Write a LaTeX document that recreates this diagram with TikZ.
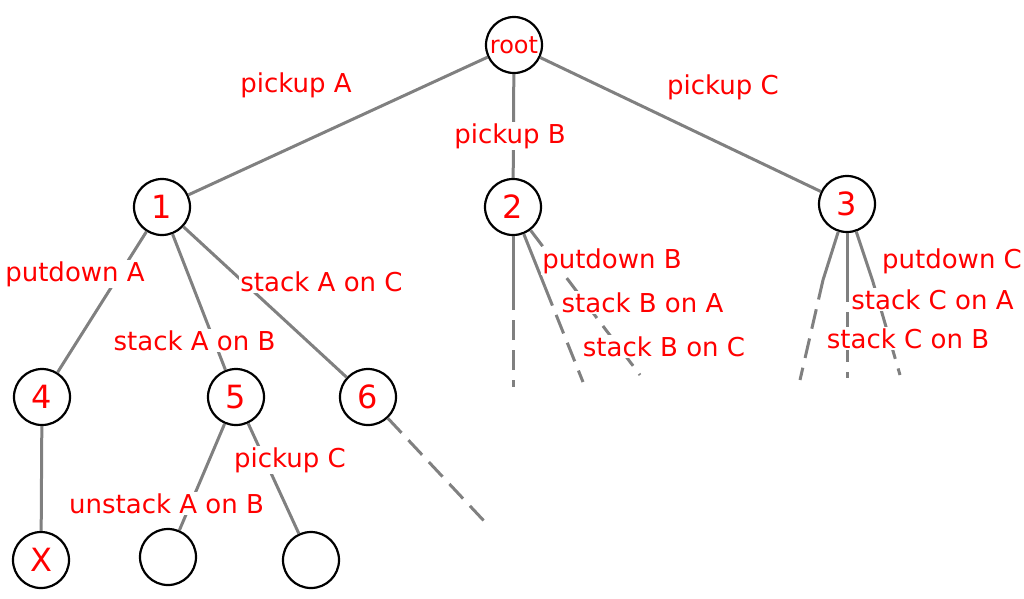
\documentclass[tikz,border=0pt]{standalone}
\usepackage{fontspec}
\setmainfont{DejaVu Sans}
\definecolor{edgegray}{RGB}{128,128,128}
\begin{document}
\begin{tikzpicture}[x=1pt,y=-1pt,
  state/.style={circle,draw=black,line width=2.2pt,minimum size=56pt,inner sep=0pt,text=red,font=\fontsize{32}{32}\selectfont},
  edge/.style={draw=edgegray,line width=3pt},
  dashedge/.style={edge,dash pattern=on 20pt off 10pt},
  lbl/.style={fill=white,text=red,inner sep=1.5pt,anchor=base,font=\fontsize{26}{26}\selectfont}]
\useasboundingbox (0,0) rectangle (1024,598);
% nodes
\node[state] (root) at (514,45) {\fontsize{24}{24}\selectfont root};
\node[state] (n1) at (162,207) {1};
\node[state] (n2) at (513,207) {2};
\node[state] (n3) at (847,204) {3};
\node[state] (n4) at (42,397) {4};
\node[state] (n5) at (236,397) {5};
\node[state] (n6) at (368,397) {6};
\node[state] (nx) at (41,560) {X};
\node[state] (b1) at (168,557) {};
\node[state] (b2) at (311,560) {};
% free ends
\coordinate (m2a) at (513,290); \coordinate (e2a) at (513,387);
\coordinate (m2b) at (545,287); \coordinate (e2b) at (583,382);
\coordinate (e2c) at (640,375);
\coordinate (m3a) at (823,280); \coordinate (e3a) at (800,380);
\coordinate (m3b) at (847,282); \coordinate (e3b) at (847,378);
\coordinate (m3c) at (873,282); \coordinate (e3c) at (900,375);
\coordinate (e6) at (485,522);
% edges
\draw[edge] (root) -- (n1);
\draw[edge] (root) -- (n2);
\draw[edge] (root) -- (n3);
\draw[edge] (n1) -- (n4);
\draw[edge] (n1) -- (n5);
\draw[edge] (n1) -- (n6);
\draw[edge] (n4) -- (nx);
\draw[edge] (n5) -- (b1);
\draw[edge] (n5) -- (b2);
\draw[dashedge] (n6) -- (e6);
\draw[edge] (n2) -- (m2a); \draw[dashedge] (m2a) -- (e2a);
\draw[edge] (n2) -- (m2b); \draw[dashedge] (m2b) -- (e2b);
\draw[dashedge] (n2) -- (e2c);
\draw[edge] (n3) -- (m3a); \draw[dashedge] (m3a) -- (e3a);
\draw[edge] (n3) -- (m3b); \draw[dashedge] (m3b) -- (e3b);
\draw[edge] (n3) -- (m3c); \draw[dashedge] (m3c) -- (e3c);
% labels
\node[lbl] (lpa) at (296,92) {pickup A};
\node[lbl] (lpb) at (510,143) {pickup B};
\node[lbl] (lpc) at (723,94) {pickup C};
\node[lbl] (lda) at (75,281) {putdown A};
\node[lbl] (lac) at (321.5,291) {stack A on C};
\node[lbl] (lab) at (194.5,350) {stack A on B};
\node[lbl] (lua) at (166.5,513) {unstack A on B};
\node[lbl] (lpc2) at (290,467) {pickup C};
\node[lbl] (ldb) at (612,268) {putdown B};
\node[lbl] (lba) at (642.5,312) {stack B on A};
\node[lbl] (lbc) at (664,356) {stack B on C};
\node[lbl] (ldc) at (952,268) {putdown C};
\node[lbl] (lca) at (932.5,309) {stack C on A};
\node[lbl] (lcb) at (908,348) {stack C on B};
\end{tikzpicture}
\end{document}
